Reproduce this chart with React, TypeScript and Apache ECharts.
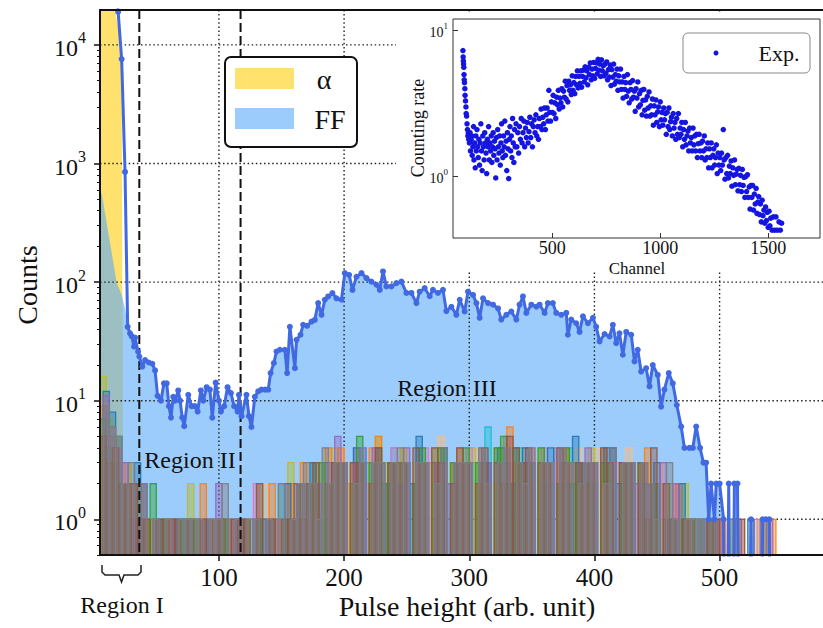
import React, { useEffect, useRef } from 'react';
import * as echarts from 'echarts';

const FONT = "'Liberation Serif', 'DejaVu Serif', serif";

// ---------- main plot axes ----------
const X_MIN = 5;
const X_MAX = 585;
const Y_MIN = 0.5;
const Y_MAX = 19700;
const xTickValues = [100, 200, 300, 400, 500];
const yTickValues = [1, 10, 100, 1000, 10000];
const regionBounds = [36.4, 117.3];
const ZERO_FLOOR = 0.001; // zero counts drop below the log axis (as matplotlib clips them)

// total measured spectrum (pulse height, counts)
const totalSpectrum: number[][] = [
  [17, 40000], [19.5, 19000], [22.3, 7600], [25, 850], [27.1, 42], [29, 37], [30.3, 35], [32.2, 28.6],
  [33, 34], [35.4, 26], [36.4, 23.6], [38.8, 19.4], [41, 22], [44, 21], [46.8, 20.5], [49, 18],
  [51, 11], [53.7, 10], [56.1, 14], [58.3, 14], [60.1, 9], [61.7, 7.2], [63.5, 10.8], [65, 10],
  [67.5, 12.2], [69, 10], [70.7, 7.2], [72.3, 6.1], [75.5, 11.2], [78.2, 9], [80.8, 9], [83, 8.1],
  [85.6, 12.2], [87.5, 10], [90.2, 13], [92.8, 12.4], [94.7, 7.2], [97.4, 14.2], [100, 10], [101.6, 8.1],
  [104.2, 9], [106.9, 13], [109.6, 11.6], [112.2, 9], [114.9, 8.1], [116, 11.2], [118.1, 7.4], [122, 11.2],
  [124, 7.4], [126, 6.0], [128.7, 10.8], [131.4, 12], [134, 12.4], [137, 12.4], [139.4, 12.4], [141.3, 17.1],
  [143.9, 20.8], [146, 26], [148.7, 26.9], [152.7, 26.9], [154.5, 17.1], [156.7, 42], [160.7, 18.8], [162, 32.6],
  [165.2, 36], [167.3, 43.6], [170.5, 42.8], [174, 46.5], [176.6, 48], [179.3, 66.5], [182, 53], [184.6, 71],
  [187.3, 75.7], [190.7, 80.8], [193.9, 73], [197.9, 71], [200.6, 119], [204, 115], [206.7, 86], [209.9, 111],
  [213.9, 119], [217.9, 108], [221.8, 101], [225.8, 95], [228.5, 86], [231.1, 123], [233.8, 92], [237.8, 92],
  [241.8, 98], [245.8, 101], [249.8, 81], [253.8, 81], [257.8, 66.5], [260.4, 83], [264.4, 89], [268.4, 76],
  [271, 86], [275, 81], [279, 86], [281.7, 57], [285.7, 62], [289.7, 53], [292.4, 71], [296.3, 56.5],
  [299, 83], [303, 78], [305.7, 66.5], [308.3, 50], [311, 73], [315, 66.5], [319, 64.5], [323, 60],
  [325.6, 48.3], [329.6, 53], [333.6, 56.5], [337.6, 48.3], [340.2, 64.5], [342.9, 75.7], [345.6, 55], [349.6, 64.5],
  [353.6, 62], [356.2, 64.5], [360.2, 55], [362.8, 66.5], [366.8, 66.5], [369.5, 55], [373.5, 53], [377.5, 55],
  [378.8, 36], [381.5, 48.3], [385.5, 45], [388.1, 38], [390.8, 51.5], [394.8, 45], [398.8, 50], [401.4, 42],
  [404.1, 31.6], [408.1, 36.5], [412.1, 34.8], [414.7, 43.6], [417.4, 30.6], [420, 37], [422.7, 24.4], [425.4, 38],
  [429.4, 36], [432, 21.4], [434.6, 26.9], [437.3, 17.6], [441.3, 18.8], [444, 13.2], [446.6, 20], [450.6, 16.5],
  [453.3, 8.9], [455.9, 12.4], [459.4, 17.1], [462.6, 14], [465.8, 9.2], [469.3, 6.05], [471.9, 4], [475.9, 4],
  [478.6, 4], [481.3, 6.05], [484.4, 4], [487.1, 3], [489.2, 3], [491.3, 1], [493.2, 2], [495.9, 1],
  [497.3, 2], [500, 2], [503.2, 1], [505, 0], [507.3, 2], [509.5, 0], [511.8, 2], [514.3, 2],
  [516.5, 0], [522, 0], [525.1, 1], [527.5, 0], [532, 0], [534.4, 1], [537, 1], [539.7, 1], [542, 0],
];

// alpha component (filled, yellow)
const alphaSpectrum: number[][] = [[5, 100000], [17, 20000], [22.3, 9500], [22.8, 100], [23.3, 30], [23.6, 0]];
// fission-fragment component, low-pulse-height head (beyond this it follows the total)
const ffHead: number[][] = [[5, 560], [6.4, 560], [18.4, 98], [22, 80], [25, 60]];
const FF_JOIN_X = 27;

// individual run histograms: bins of width 5 starting at 5 (+ per-run offset); one base-36 digit per bin
const RUN_BIN_START = 5;
const RUN_BIN_WIDTH = 5;
const runColors = ['#ffbb78', '#17becf', '#bcbd22', '#e377c2', '#ff7f0e', '#1f77b4', '#2ca02c', '#9467bd', '#8c564b', '#7f7f7f'];
const runOffsets = [0, 2.5, 0, 2.5, 0, 2.5, 0, 2.5, 0, 2.5];
const runCounts = [
  'a6 42 201 1011010111010110 10120102 102302 3403402310 3402303503 3304302402 4302303404 2043303402 2031201 10010 000100000',
  '85 32 120 0111101010111011 01101201 213201 3302433204 2304303423 3032603304 3303240403 3203403203 1202110 10101 010000000',
  'g7 53 302 1101110201101110 10201103 021332 4303302533 2403304303 3343302403 3304203433 3403303203 3020112 01010 001000100',
  '64 23 011 0101101101110111 02110120 202213 2304323024 3303403302 3403203533 2404342302 3302430303 1201210 01101 000001000',
  '95 41 220 1110101012101101 10102102 131204 2423304523 3302330403 4302304363 3203302433 3304302303 4102021 10011 100000011',
  'c8 52 132 0110111101011010 01110021 223132 3304303323 2325302403 3303304323 4302403253 3304423302 2301120 11010 000010000',
  '74 32 201 1201011110101101 10101010 102231 3302503423 3302403403 2403304524 3304302423 3203303303 1201101 10110 000000000',
  'b6 43 212 0101101011120111 01011101 121203 5303404303 2403303323 3304303402 3303304303 4302303323 2031201 01101 001000010',
  '53 42 221 1011110101011011 10201011 212302 3303302403 3304304302 4302403254 3403304303 2304303303 1402101 10011 000100000',
  '96 52 302 0101011110112010 11010201 232142 3302303303 4303302403 3304203403 2403304302 3302403303 2103101 11010 010000100',
];

// ---------- inset ----------
const insetXTicks = [500, 1000, 1500];
const insetYTicks = [1, 10];
const expPoints: number[][] = [
  [86, 7.3], [87, 6.6], [88, 6.2], [89, 5.9], [90, 5.6], [91, 5.0], [92, 4.6], [93, 4.4], [95, 4.0], [96, 3.6],
  [98, 3.3], [100, 3.0], [101, 2.7], [103, 2.6], [105, 2.3], [107, 2.1], [109, 1.9], [111, 2.0], [113, 1.8],
  [116, 1.7], [119, 2.0], [121, 1.5], [124, 1.8], [127, 1.9], [129, 1.4], [132, 1.6], [135, 2.2], [137, 1.3], [140, 1.7],
  [143, 1.15], [146, 1.9], [148, 1.5], [151, 2.1], [154, 1.6], [157, 1.35], [160, 1.8], [163, 1.2], [166, 1.7], [169, 2.3],
  [172, 1.5], [175, 1.1], [178, 1.9], [181, 1.6], [184, 1.3], [187, 2.0], [190, 1.7], [193, 1.45], [196, 1.05], [199, 1.8],
  [202, 1.6], [205, 2.2], [208, 1.3], [211, 1.7], [214, 1.5], [217, 1.9], [220, 1.25], [223, 1.6], [226, 2.0], [229, 1.4],
  [232, 1.75], [235, 1.55], [238, 0.98], [241, 1.85], [244, 1.3], [247, 2.1], [250, 1.6], [253, 1.45], [256, 1.9], [259, 1.2],
  [262, 1.7], [265, 2.3], [268, 1.5], [271, 1.35], [274, 1.9], [277, 1.6], [280, 2.4], [283, 1.4], [286, 1.75], [289, 1.1],
  [292, 2.0], [295, 1.55], [298, 0.97], [301, 1.8], [304, 2.2], [307, 1.5], [310, 1.9], [313, 1.35], [316, 2.5], [319, 1.7],
  [322, 1.25], [325, 2.1], [328, 1.6],
  [332, 2.3], [336, 1.6], [340, 2.0], [344, 1.45], [348, 2.2], [352, 1.8], [356, 2.5], [360, 1.7], [364, 2.0], [368, 2.4],
  [372, 1.6], [376, 2.15], [380, 1.85], [384, 2.35], [388, 1.7], [392, 2.03], [396, 2.55], [400, 1.85], [404, 2.3], [408, 1.6],
  [412, 2.2], [416, 2.45], [420, 2.0], [424, 2.65], [428, 1.9], [432, 2.2], [436, 1.8], [440, 2.5], [444, 2.2], [448, 2.9],
  [452, 2.1], [456, 2.55], [460, 2.3], [464, 2.95], [468, 2.1], [472, 2.65], [476, 2.95], [480, 2.4], [484, 3.9], [488, 2.75],
  [492, 2.4], [496, 3.25], [500, 2.75], [504, 3.6], [508, 2.7], [512, 3.2], [516, 2.5], [520, 3.5], [524, 3.1], [528, 3.9],
  [532, 2.9], [536, 3.45], [540, 3.2], [544, 4.0], [548, 3.0], [552, 3.85], [556, 3.5], [560, 4.5], [564, 3.4], [568, 4.2],
  [572, 3.25], [576, 4.5], [580, 3.9], [584, 4.25], [588, 3.65], [592, 4.9], [596, 3.9], [600, 4.4], [604, 3.7], [608, 4.85],
  [612, 4.25], [616, 5.3], [620, 4.05], [624, 4.85], [628, 4.35], [632, 5.3], [636, 4.1], [640, 4.85], [644, 5.35], [648, 4.45],
  [652, 5.65], [656, 4.75], [660, 5.3], [664, 4.25], [668, 5.6], [672, 5.0], [676, 6.0], [680, 4.6], [684, 5.45], [688, 4.9],
  [692, 6.05], [696, 4.7], [700, 5.5], [704, 6.0], [708, 5.05], [712, 6.35], [716, 5.35], [720, 5.9], [724, 4.85], [728, 6.3],
  [732, 5.3], [736, 5.75], [740, 4.9],
  [744, 5.9], [748, 5.1], [752, 6.1], [756, 4.6], [760, 5.4], [764, 4.8], [768, 5.8], [772, 4.2], [776, 5.4], [780, 4.8],
  [784, 5.9], [788, 4.3], [792, 5.0], [796, 4.5], [800, 5.45], [804, 3.9], [808, 4.9], [812, 4.45], [816, 5.45], [820, 3.95],
  [824, 4.45], [828, 3.45], [832, 4.85], [836, 3.95], [840, 4.4], [844, 3.55], [848, 5.0], [852, 3.85], [856, 3.2], [860, 4.4],
  [864, 3.95], [868, 3.4], [872, 4.55], [876, 3.5], [880, 3.85], [884, 2.8], [888, 4.0], [892, 3.45], [896, 4.45], [900, 3.0],
  [904, 3.7], [908, 3.1], [912, 3.9], [916, 2.65], [920, 3.33], [924, 3.95], [928, 2.85], [932, 3.35], [936, 2.6], [940, 3.55],
  [944, 2.95], [948, 3.8], [952, 2.6], [956, 3.05], [960, 2.65], [964, 3.4], [968, 2.25], [972, 3.05], [976, 2.65], [980, 3.35],
  [984, 2.35], [988, 2.78], [992, 3.0], [996, 2.2], [1000, 3.25], [1004, 2.45], [1008, 2.75], [1012, 2.25], [1016, 2.95], [1020, 2.45],
  [1024, 2.7], [1028, 1.95], [1032, 2.75], [1036, 2.2], [1040, 2.95], [1044, 2.1], [1048, 2.38], [1052, 2.55], [1056, 1.9], [1060, 2.7],
  [1064, 2.15], [1068, 2.35], [1072, 1.8], [1076, 2.5], [1080, 1.95], [1084, 2.7], [1088, 1.85], [1092, 2.15], [1096, 1.95], [1100, 2.35],
  [1104, 1.6], [1108, 2.1], [1112, 1.8], [1116, 2.35], [1120, 1.65], [1124, 1.9], [1128, 2.05], [1132, 1.5], [1136, 2.15], [1140, 1.7],
  [1144, 1.85], [1148, 1.5], [1152, 2.15], [1156, 1.65], [1160, 1.9], [1164, 1.5], [1168, 1.95], [1172, 1.35], [1176, 1.68], [1180, 1.95],
  [1184, 1.5], [1188, 1.7], [1192, 1.35], [1196, 1.75], [1200, 1.5], [1204, 1.9], [1208, 1.3], [1212, 1.55], [1216, 1.35], [1220, 1.7],
  [1224, 1.15], [1228, 1.55], [1232, 1.35], [1236, 1.7], [1240, 1.15], [1244, 1.4], [1248, 1.55], [1252, 1.2], [1256, 1.35], [1260, 1.65],
  [1264, 1.05], [1268, 1.45], [1272, 1.2], [1276, 1.35], [1280, 1.1], [1284, 1.45], [1288, 1.2], [1292, 2.1], [1296, 1.3], [1300, 0.96],
  [1304, 1.35], [1308, 1.05], [1312, 1.4], [1316, 0.98], [1320, 1.18], [1324, 1.05], [1328, 1.28], [1332, 0.86], [1336, 1.15], [1340, 1.02],
  [1344, 1.3], [1348, 0.88], [1352, 1.04], [1356, 1.12], [1360, 0.8], [1364, 1.14], [1368, 0.88], [1372, 1.02], [1376, 0.79], [1380, 1.12],
  [1384, 0.87], [1388, 0.99], [1392, 0.72], [1396, 1.0], [1400, 0.79], [1404, 1.03], [1408, 0.72], [1412, 0.85], [1416, 0.6], [1420, 0.87],
  [1424, 0.72], [1428, 0.87], [1432, 0.59], [1436, 0.76], [1440, 0.65], [1444, 0.83], [1448, 0.56], [1452, 0.67], [1456, 0.73], [1460, 0.55],
  [1464, 0.65], [1468, 0.49], [1472, 0.69], [1476, 0.54], [1480, 0.59], [1484, 0.48], [1488, 0.62], [1492, 0.5], [1496, 0.57], [1500, 0.45],
  [1504, 0.58], [1508, 0.46], [1512, 0.52], [1518, 0.43], [1524, 0.53], [1530, 0.43], [1536, 0.53], [1542, 0.43], [1550, 0.49], [1556, 0.43],
  [1562, 0.48],
];

// ---------- helpers ----------
const hexToRgba = (hex: string, a: number) => {
  const n = parseInt(hex.slice(1), 16);
  return `rgba(${(n >> 16) & 255},${(n >> 8) & 255},${n & 255},${a})`;
};
const floorZero = (pts: number[][]) => pts.map(([x, y]) => [x, y > 0 ? y : ZERO_FLOOR]);

const minorTickValues: number[] = [];
for (let e = -1; e <= 4; e++) {
  for (let m = 2; m <= 9; m++) {
    const v = +(m * Math.pow(10, e)).toPrecision(3);
    if (v >= Y_MIN && v <= Y_MAX) minorTickValues.push(v);
  }
}

const powLabel = (v: number) => `{b|10}{s|${Math.round(Math.log10(v))}}`;

const makeRunSeries = (counts: string, color: string, offset: number) => {
  const vals = counts.replace(/\s/g, '').split('').map((c) => parseInt(c, 36));
  const data = vals
    .map((v, i) => [RUN_BIN_START + offset + i * RUN_BIN_WIDTH, RUN_BIN_START + offset + (i + 1) * RUN_BIN_WIDTH, v])
    .filter((d) => d[2] > 0);
  return {
    type: 'custom',
    xAxisIndex: 0,
    yAxisIndex: 0,
    z: 4,
    silent: true,
    clip: true,
    encode: { x: [0, 1], y: 2 },
    data,
    renderItem: (params: any, api: any) => {
      const a = api.coord([api.value(0), api.value(2)]);
      const b = api.coord([api.value(1), api.value(2)]);
      const cs = params.coordSys;
      const bottom = cs.y + cs.height;
      return {
        type: 'rect',
        shape: { x: a[0], y: a[1], width: b[0] - a[0], height: bottom - a[1] },
        style: { fill: hexToRgba(color, 0.42), stroke: hexToRgba(color, 0.9), lineWidth: 1.3 },
      };
    },
  };
};

const vLineSeries = (values: number[], z: number, style: any) => ({
  type: 'custom',
  xAxisIndex: 0,
  yAxisIndex: 0,
  z,
  silent: true,
  encode: { x: 0, y: 1 },
  data: values.map((v) => [v, 1]),
  renderItem: (params: any, api: any) => {
    const p = api.coord([api.value(0), api.value(1)]);
    const cs = params.coordSys;
    return { type: 'line', shape: { x1: p[0], y1: cs.y, x2: p[0], y2: cs.y + cs.height }, style };
  },
});

const hLineSeries = (values: number[], z: number, style: any) => ({
  type: 'custom',
  xAxisIndex: 0,
  yAxisIndex: 0,
  z,
  silent: true,
  encode: { x: 0, y: 1 },
  data: values.map((v) => [X_MIN, v]),
  renderItem: (params: any, api: any) => {
    const p = api.coord([api.value(0), api.value(1)]);
    const cs = params.coordSys;
    return { type: 'line', shape: { x1: cs.x, y1: p[1], x2: cs.x + cs.width, y2: p[1] }, style };
  },
});

const gridStyle = { stroke: '#222', lineWidth: 1.4, lineDash: [1.5, 2.6] };
const dashStyle = { stroke: '#111', lineWidth: 2, lineDash: [9, 4] };

const textEl = (text: string, x: number, y: number, size: number, z: number, extra: any = {}) => ({
  type: 'text',
  x,
  y,
  z,
  silent: true,
  ...extra,
  style: {
    text,
    fontSize: size,
    fontFamily: FONT,
    fill: '#111',
    align: 'center',
    verticalAlign: 'middle',
    textAlign: 'center',
    textVerticalAlign: 'middle',
  },
});

export default function App() {
  const ref = useRef<HTMLDivElement>(null);

  useEffect(() => {
    if (!ref.current) return;
    const chart = echarts.init(ref.current, undefined, { renderer: 'svg' });

    const ffData = ffHead.concat(totalSpectrum.filter((p) => p[0] >= FF_JOIN_X));

    const option: any = {
      animation: false,
      backgroundColor: '#fff',
      grid: [
        { left: 100, top: 10, width: 726, height: 545, outerBoundsMode: 'none', containLabel: false },
        {
          left: 453, top: 19, width: 367, height: 219, show: true, borderColor: '#333', borderWidth: 1,
          backgroundColor: '#fff', z: 12, outerBoundsMode: 'none', containLabel: false,
        },
      ],
      xAxis: [
        {
          type: 'value', gridIndex: 0, min: X_MIN, max: X_MAX, position: 'bottom', z: 7,
          axisLine: { show: true, onZero: false, lineStyle: { color: '#111', width: 2 } },
          axisTick: { show: true, inside: false, length: 6, customValues: xTickValues, lineStyle: { color: '#111', width: 1.5 } },
          axisLabel: { show: true, customValues: xTickValues, fontSize: 25, fontFamily: FONT, color: '#111', margin: 10 },
          splitLine: { show: false },
        },
        {
          type: 'value', gridIndex: 0, min: X_MIN, max: X_MAX, position: 'top', z: 7,
          axisLine: { show: true, onZero: false, lineStyle: { color: '#111', width: 2 } },
          axisTick: { show: false }, axisLabel: { show: false }, splitLine: { show: false },
        },
        {
          type: 'value', gridIndex: 1, min: 40, max: 1740, position: 'bottom', z: 13,
          axisLine: { show: false, onZero: false },
          axisTick: { show: true, inside: true, length: 5, customValues: insetXTicks, lineStyle: { color: '#333', width: 1 } },
          axisLabel: {
            show: true, customValues: insetXTicks, fontSize: 18, fontFamily: FONT, color: '#111', margin: 1,
            formatter: (v: number) => String(v),
          },
          splitLine: { show: false },
        },
      ],
      yAxis: [
        {
          type: 'log', logBase: 10, gridIndex: 0, min: Y_MIN, max: Y_MAX, position: 'left', z: 7,
          axisLine: { show: true, onZero: false, lineStyle: { color: '#111', width: 2 } },
          axisTick: { show: true, inside: false, length: 6, customValues: yTickValues, lineStyle: { color: '#111', width: 1.5 } },
          axisLabel: {
            show: true, customValues: yTickValues, margin: 14, formatter: powLabel,
            rich: {
              b: { fontSize: 24, fontFamily: FONT, color: '#111', lineHeight: 30, verticalAlign: 'bottom' },
              s: { fontSize: 16, fontFamily: FONT, color: '#111', lineHeight: 14, verticalAlign: 'top' },
            },
          },
          splitLine: { show: false },
        },
        {
          type: 'log', logBase: 10, gridIndex: 0, min: Y_MIN, max: Y_MAX, position: 'left', z: 7,
          axisLine: { show: false, onZero: false },
          axisTick: { show: true, inside: false, length: 3, customValues: minorTickValues, lineStyle: { color: '#111', width: 1 } },
          axisLabel: { show: false },
          splitLine: { show: false },
        },
        {
          type: 'log', logBase: 10, gridIndex: 1, min: 0.38, max: 12, position: 'left', z: 13,
          axisLine: { show: false, onZero: false },
          axisTick: { show: true, inside: true, length: 5, customValues: insetYTicks, lineStyle: { color: '#333', width: 1 } },
          axisLabel: {
            show: true, customValues: insetYTicks, margin: 5, formatter: powLabel,
            rich: {
              b: { fontSize: 14, fontFamily: FONT, color: '#111', lineHeight: 18, verticalAlign: 'bottom' },
              s: { fontSize: 9, fontFamily: FONT, color: '#111', lineHeight: 10, verticalAlign: 'top' },
            },
          },
          splitLine: { show: false },
        },
      ],
      series: [
        {
          type: 'line', name: 'α', xAxisIndex: 0, yAxisIndex: 0, z: 1, silent: true, clip: true,
          data: floorZero(alphaSpectrum), symbol: 'none', showSymbol: false,
          lineStyle: { width: 0 },
          areaStyle: { color: '#ffd73c', opacity: 0.75, origin: 'start' },
        },
        {
          type: 'line', name: 'FF', xAxisIndex: 0, yAxisIndex: 0, z: 2, silent: true, clip: true,
          data: floorZero(ffData), symbol: 'none', showSymbol: false,
          lineStyle: { width: 0 },
          areaStyle: { color: '#5aaafa', opacity: 0.6, origin: 'start' },
        },
        vLineSeries(xTickValues, 3, gridStyle),
        hLineSeries(yTickValues, 3, gridStyle),
        ...runCounts.map((c, i) => makeRunSeries(c, runColors[i], runOffsets[i])),
        vLineSeries(regionBounds, 5, dashStyle),
        {
          type: 'line', name: 'Total', xAxisIndex: 0, yAxisIndex: 0, z: 6, silent: true, clip: true,
          data: floorZero(totalSpectrum), symbol: 'circle', symbolSize: 6, showSymbol: true, showAllSymbol: true,
          lineStyle: { color: '#4169e1', width: 3 }, itemStyle: { color: '#4169e1' },
        },
        {
          type: 'scatter', name: 'Exp.', xAxisIndex: 2, yAxisIndex: 2, z: 13, silent: true,
          data: expPoints, symbolSize: 5.5, itemStyle: { color: '#1515e0', opacity: 1 },
        },
      ],
      graphic: {
        elements: [
          // inset background
          { type: 'rect', z: 9, silent: true, shape: { x: 396, y: 14, width: 430, height: 258 }, style: { fill: '#fff' } },
          // main legend
          { type: 'rect', z: 10, silent: true, shape: { x: 225, y: 57, width: 132, height: 90, r: 6 }, style: { fill: '#fff', stroke: '#111', lineWidth: 2 } },
          { type: 'rect', z: 11, silent: true, shape: { x: 235, y: 68, width: 59, height: 21 }, style: { fill: 'rgba(255,215,60,0.75)' } },
          { type: 'rect', z: 11, silent: true, shape: { x: 235, y: 108, width: 59, height: 21 }, style: { fill: 'rgba(90,170,250,0.6)' } },
          textEl('α', 324, 79, 28, 11),
          textEl('FF', 330, 119, 28, 11),
          // axis titles
          textEl('Counts', 27, 285, 28, 11, { rotation: Math.PI / 2 }),
          textEl('Pulse height (arb. unit)', 467, 606, 28, 11),
          // region annotations
          textEl('Region I', 122, 605, 24, 11),
          {
            type: 'polyline', z: 11, silent: true,
            shape: { points: [[102, 565], [102, 572], [105, 575], [119, 575], [121.5, 582], [124, 575], [138, 575], [141, 572], [141, 565]] },
            style: { stroke: '#222', lineWidth: 1.5, fill: 'none' },
          },
          textEl('Region II', 190, 460, 24, 11),
          textEl('Region III', 447, 388, 24, 11),
          // inset titles
          textEl('Counting rate', 418, 128, 18, 14, { rotation: Math.PI / 2 }),
          textEl('Channel', 637, 268, 17, 14),
          // inset legend
          { type: 'rect', z: 14, silent: true, shape: { x: 683, y: 33, width: 127, height: 40, r: 5 }, style: { fill: '#fff', stroke: '#888', lineWidth: 1 } },
          { type: 'circle', z: 15, silent: true, shape: { cx: 716, cy: 53, r: 2.5 }, style: { fill: '#1515e0' } },
          textEl('Exp.', 779, 53, 22, 15),
        ],
      },
    };

    chart.setOption(option);
    return () => chart.dispose();
  }, []);

  return (
    <div
      ref={ref}
      style={{ position: 'fixed', left: 0, top: 0, width: 823, height: 628, background: '#fff' }}
    />
  );
}
